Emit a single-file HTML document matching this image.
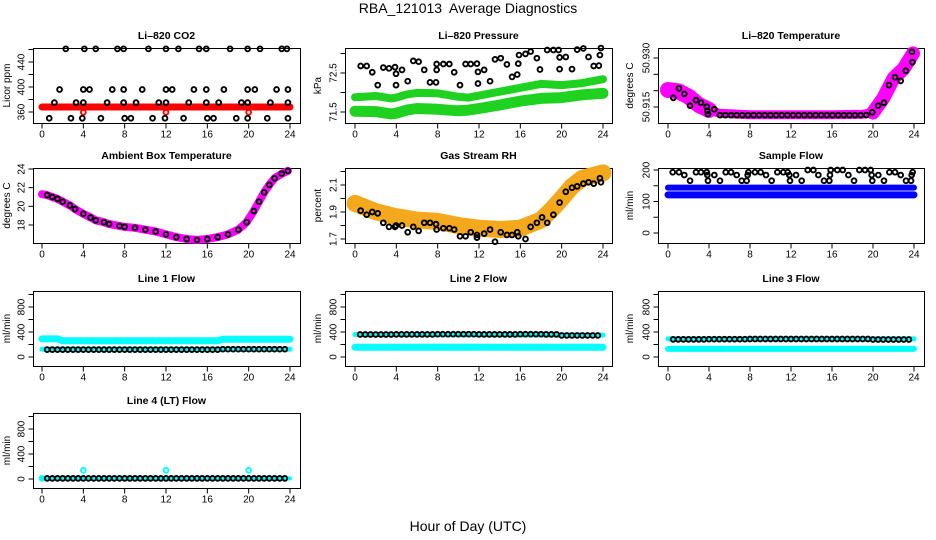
<!DOCTYPE html>
<html><head><meta charset="utf-8">
<style>
html,body{margin:0;padding:0;background:#fff;}
svg{display:block;font-family:"Liberation Sans",sans-serif;}
</style></head>
<body>
<svg id="chart" width="936" height="540" viewBox="0 0 936 540">
<text x="468" y="13" text-anchor="middle" font-size="14" style="white-space:pre" xml:space="preserve">RBA_121013  Average Diagnostics</text>
<text x="468" y="531" text-anchor="middle" font-size="14">Hour of Day (UTC)</text>
</svg>
<script>
// ---------- data ----------
const xTicks = [0,4,8,12,16,20,24];
// CO2
const co2TopH = [2.3,4.1,5.2,7.3,7.9,10.3,12.0,13.2,15.2,15.9,18.2,19.9,21.1,23.2,23.7];
const co2TopV = [461,461,461,461,461,461,461,461,461,461,461,461,461,461,461];
const co2MidH = [1.7,4.0,4.6,6.8,7.9,9.7,12.0,12.6,14.7,15.9,17.6,19.9,20.6,22.7,23.8];
const co2MidV = [396,396,396,396,396,396,396,396,396,396,396,396,396,396,396];
const co2LowH = [1.2,3.3,4.0,6.3,7.9,9.1,11.3,12.0,14.2,15.9,17.1,19.3,19.9,22.1,23.8];
const co2LowV = [375,375,375,375,375,375,375,375,375,375,375,375,375,375,375];
const co2BotH = [0.7,2.8,3.9,5.7,8.0,8.6,10.7,11.9,13.7,16.0,16.6,18.8,19.9,21.8,23.8];
const co2BotV = [350,350,350,350,350,350,350,350,350,350,350,350,350,350,350];
const co2RedH = [0,24];
const co2RedV = [368,368];
const co2RedPtH = [4,12,20];
const co2RedPtV = [359.5,359.5,359.5];
// Pressure
const presH = [0.55,1.13,1.67,2.2,2.74,3.29,3.87,3.97,3.97,4.55,5.1,5.64,6.16,6.7,7.26,7.84,7.9,7.9,8.55,9.13,9.6,10.16,10.7,11.2,11.8,11.9,11.9,12.5,13.07,13.55,14.1,14.7,15.2,15.7,15.8,15.87,16.5,17.0,17.6,17.9,18.6,19.2,19.7,19.8,19.8,20.4,21.0,21.5,22.1,22.6,23.1,23.6,23.7,23.8];
const presV = [72.68,72.68,72.52,72.19,72.64,72.62,72.65,72.48,72.19,72.58,72.29,72.81,72.79,72.58,72.26,72.26,72.58,72.73,72.73,72.73,72.52,72.19,72.73,72.73,72.74,72.53,72.23,72.58,72.29,72.85,72.88,72.72,72.4,72.46,72.74,72.96,72.99,73.05,72.88,72.59,73.09,73.09,73.09,72.9,72.6,72.91,72.6,73.1,73.13,72.91,72.68,72.69,72.96,73.14];
const presBandH = [0,2,3.5,4,5,6,8,10,11,12,14,16,18,20,22,24];
const presLowV = [71.52,71.51,71.45,71.47,71.55,71.59,71.57,71.53,71.55,71.59,71.68,71.78,71.85,71.87,71.94,71.98];
const presUpV = [71.88,71.91,71.85,71.87,71.95,71.99,71.98,71.89,71.87,71.92,72.02,72.12,72.22,72.19,72.24,72.34];
// Li-820 temperature
const ltH = [0.52,1.07,1.59,2.15,2.73,3.22,3.78,3.84,3.9,4.52,5.07,5.6,6.15,6.7,7.25,7.8,8.35,8.9,9.45,10,10.55,11.1,11.65,12.2,12.75,13.3,13.85,14.4,14.95,15.5,16.05,16.6,17.15,17.7,18.25,18.8,19.35,19.93,20.5,21.07,21.56,22.15,22.7,23.2,23.8,23.85];
const ltV = [50.9178,50.9207,50.919,50.9154,50.9171,50.9163,50.9151,50.9138,50.9128,50.9143,50.9125,50.9125,50.9125,50.9125,50.9125,50.9125,50.9125,50.9125,50.9125,50.9125,50.9125,50.9125,50.9125,50.9125,50.9125,50.9125,50.9125,50.9125,50.9125,50.9125,50.9125,50.9125,50.9125,50.9125,50.9125,50.9125,50.9125,50.9134,50.9154,50.9163,50.9217,50.9241,50.923,50.9261,50.9319,50.9287];
const ltBandH = [0,1,2,3,4,5,8,12,16,19,20,21,22,23,23.9];
const ltBandV = [50.9202,50.9198,50.9182,50.9156,50.9141,50.9131,50.9126,50.9126,50.9126,50.9128,50.9133,50.9177,50.9238,50.9268,50.9314];
// Ambient
const ambH = [0,0.5,1,1.5,2,2.7,3.2,4,4.7,5.2,6,6.5,7.5,8,9,10,11,12,13,14,15,16,17,18,19,19.8,20.5,21,21.5,22,22.5,23.2,23.8];
const ambV = [21.3,21.2,21.0,20.8,20.5,20.1,19.7,19.2,18.8,18.5,18.3,18.1,17.9,17.8,17.7,17.5,17.3,17.0,16.7,16.5,16.4,16.5,16.7,17.0,17.5,18.3,19.5,20.5,21.5,22.3,23.0,23.5,23.8];
// Gas RH
const rhH = [0.55,1.13,1.67,2.2,2.74,3.29,3.87,3.97,4.55,5.1,5.64,6.16,6.7,7.26,7.84,7.9,8.55,9.13,9.6,10.16,10.7,11.2,11.8,11.8,12.5,13.07,13.55,14.1,14.7,15.2,15.7,15.8,16.5,17.0,17.6,18.1,18.6,19.2,19.8,20.4,21.0,21.5,22.1,22.6,23.1,23.7,23.8];
const rhV = [1.91,1.88,1.90,1.89,1.82,1.79,1.79,1.80,1.80,1.75,1.79,1.76,1.82,1.82,1.81,1.77,1.78,1.78,1.77,1.72,1.72,1.75,1.73,1.71,1.74,1.77,1.68,1.75,1.73,1.73,1.75,1.72,1.70,1.79,1.82,1.86,1.82,1.88,1.97,2.05,2.08,2.09,2.11,2.12,2.11,2.15,2.12];
const rhBandH = [0,2,4,6,8,10,12,14,16,18,19,20,21,22,23,24];
const rhBandV = [1.964,1.902,1.865,1.84,1.83,1.80,1.78,1.77,1.78,1.84,1.915,2.0,2.09,2.15,2.17,2.19];
// Sample flow
const sfH = [0.46,1.07,1.59,2.15,2.73,3.22,3.78,3.84,3.9,4.52,5.07,5.63,6.15,6.7,7.19,7.67,7.77,7.84,8.49,9.04,9.56,10.11,10.67,11.25,11.67,11.84,11.9,12.49,13.04,13.63,14.18,14.67,15.22,15.74,15.8,15.87,16.52,17.04,17.6,18.15,18.67,19.22,19.77,19.87,19.93,20.52,21.07,21.6,22.15,22.7,23.22,23.71,23.77,23.87];
const sfV = [193,193,184,166,193,193,193,184,166,184,166,193,193,184,166,166,184,193,193,193,184,166,193,193,193,184,166,184,166,200,200,184,166,166,184,200,200,200,184,166,200,200,200,184,166,184,166,193,193,184,166,166,184,193];
const sfBandH = [0,24];
const sfUpV = [144,144];
const sfLowV = [121,121];
// Line flows
const flowH = [0.5,1,1.5,2,2.5,3,3.5,4,4.5,5,5.5,6,6.5,7,7.5,8,8.5,9,9.5,10,10.5,11,11.5,12,12.5,13,13.5,14,14.5,15,15.5,16,16.5,17,17.5,18,18.5,19,19.5,20,20.5,21,21.5,22,22.5,23,23.5];
const line1Black = [118,118,118,118,118,118,118,118,118,118,118,118,118,118,118,118,118,118,118,118,118,118,118,118,118,118,118,118,118,118,118,118,118,118,125,125,125,125,125,125,125,125,125,125,125,125,125];
const line2Black = [360,360,360,360,360,360,360,362,362,362,362,362,362,362,362,365,365,365,365,365,365,365,365,362,362,362,362,362,362,362,362,365,365,365,365,365,362,362,362,345,345,345,345,345,345,345,345];
const line3Black = [282,282,282,282,282,282,282,285,285,285,285,285,285,285,285,288,288,288,288,288,288,288,288,288,288,288,288,288,288,288,288,288,288,288,288,288,288,288,288,280,280,280,280,280,280,280,280];
const line4Black = [10,10,10,10,10,10,10,10,10,10,10,10,10,10,10,10,10,10,10,10,10,10,10,10,10,10,10,10,10,10,10,10,10,10,10,10,10,10,10,10,10,10,10,10,10,10,10];
const line1CyanUpH = [0,1.5,2,17,17.5,24];
const line1CyanUpV = [290,290,260,260,285,285];
const line1CyanLowH = [0,24];
const line1CyanLowV = [125,125];
const line2CyanUpH = [0,24];
const line2CyanUpV = [360,350];
const line2CyanLowH = [0,24];
const line2CyanLowV = [155,155];
const line3CyanUpH = [0,24];
const line3CyanUpV = [290,290];
const line3CyanLowH = [0,24];
const line3CyanLowV = [130,130];
const line4CyanH = [0,24];
const line4CyanV = [10,10];
const line4CyanPtH = [0,4,12,20];
const line4CyanPtV = [10,140,140,140];

// ---------- drawing ----------
const NS = "http://www.w3.org/2000/svg";
const svg = document.getElementById('chart');
const cols = [{bx:33,bw:267,x0:42,x1:290,lx:10},{bx:345,bw:267,x0:355,x1:603,lx:321},{bx:658,bw:266,x0:668,x1:914,lx:633}];
const rows = [48,168,291,413];
const BH = 75;

function mk(tag, attrs, parent){
  const e = document.createElementNS(NS, tag);
  for (const k in attrs) e.setAttribute(k, attrs[k]);
  (parent||svg).appendChild(e);
  return e;
}

function panel(name, title, ylab, c, r, v0, p0, v1, p1, yTicks, yLabels){
  const col = cols[c], top = rows[r];
  const g = mk('g', {});
  
  
  const X = h => col.x0 + (h/24)*(col.x1-col.x0);
  const Y = v => (top+p0) + (v-v0)*((p1-p0)/(v1-v0));
  const t = mk('text', {x: col.bx+col.bw/2, y: top-9, 'text-anchor':'middle','font-size':10.5,'font-weight':'bold'}, g);
  t.textContent = title;
  
  
  const yl = mk('text', {x: col.lx, y: top+BH/2, 'text-anchor':'middle','font-size':10,transform:`rotate(-90 ${col.lx} ${top+BH/2})`}, g);
  yl.textContent = ylab;
  
  
  const box = mk('rect', {x: col.bx+0.5, y: top+0.5, width: col.bw, height: BH, fill:'none', stroke:'#000','stroke-width':1}, g);
  
  
  const xa = mk('g', {}, g);
  
  
  const by = top+BH+0.5;
  mk('line', {x1:X(0), x2:X(24), y1:by, y2:by, stroke:'#000'}, xa);
  xTicks.forEach(h=>{
    mk('line', {x1:X(h), x2:X(h), y1:by, y2:by+5, stroke:'#000'}, xa);
    const tl = mk('text', {x:X(h), y:by+14, 'text-anchor':'middle','font-size':10}, xa);
    tl.textContent = h;
    
    
  });
  const ya = mk('g', {}, g);
  
  
  const bx = col.bx+0.5;
  mk('line', {x1:bx, x2:bx, y1:Y(yTicks[0]), y2:Y(yTicks[yTicks.length-1]), stroke:'#000'}, ya);
  yTicks.forEach(v=>{ mk('line', {x1:bx-5, x2:bx, y1:Y(v), y2:Y(v), stroke:'#000'}, ya); });
  yLabels.forEach(v=>{
    const lx = bx-9;
    const tl = mk('text', {x:lx, y:Y(v), 'text-anchor':'middle','font-size':10,transform:`rotate(-90 ${lx} ${Y(v)})`}, ya);
    tl.textContent = v;
    
    
  });
  const data = mk('g', {}, g);
  
  
  return {X, Y, g: data};
}

function band(p, hs, vs, color, w, nm){
  const pts = hs.map((h,i)=>p.X(h).toFixed(1)+','+p.Y(vs[i]).toFixed(1)).join(' ');
  const l = mk('polyline', {points:pts, fill:'none', stroke:color, 'stroke-width':w, 'stroke-linejoin':'round','stroke-linecap':'round'}, p.g);
  
  
}
function pts(p, hs, vs, color, nm){
  hs.forEach((h,i)=>{
    const c = mk('circle', {cx:p.X(h), cy:p.Y(vs[i]), r:2.4, fill:'none', stroke:color, 'stroke-width':1.9}, p.g);
    
    
  });
}

// Row 1
let p = panel('co2', 'Li\u2013820 CO2', 'Licor ppm', 0, 0, 360, 64, 440, 14, [360,380,400,420,440,460], [360,400,440]);
band(p, co2RedH, co2RedV, '#ff0000', 7, 'co2-red-band');
pts(p, co2RedPtH, co2RedPtV, '#ff0000', 'co2-red-point');
pts(p, co2TopH, co2TopV, '#000', 'co2-point');
pts(p, co2MidH, co2MidV, '#000', 'co2-point');
pts(p, co2LowH, co2LowV, '#000', 'co2-point');
pts(p, co2BotH, co2BotV, '#000', 'co2-point');

p = panel('pressure', 'Li\u2013820 Pressure', 'kPa', 1, 0, 71.5, 64, 72.5, 25, [71.5,72,72.5,73], [71.5,72.5]);
band(p, presBandH, presLowV, '#1fd21f', 11, 'pressure-lower-band');
band(p, presBandH, presUpV, '#1fd21f', 8, 'pressure-upper-band');
pts(p, presH, presV, '#000', 'pressure-point');

p = panel('li820-temp', 'Li\u2013820 Temperature', 'degrees C', 2, 0, 50.915, 59, 50.930, 10, [50.915,50.920,50.925,50.930], ['50.915','50.930']);
band(p, ltBandH, ltBandV, '#ff00ff', 9, 'li820-temp-band');
band(p, ltBandH.slice(0,5), ltBandV.slice(0,5), '#ff00ff', 16, 'li820-temp-band-start');
band(p, ltBandH.slice(10), ltBandV.slice(10), '#ff00ff', 14, 'li820-temp-band-end');
pts(p, ltH, ltV, '#000', 'li820-temp-point');

// Row 2
p = panel('ambient', 'Ambient Box Temperature', 'degrees C', 0, 1, 18, 57, 24, 1, [18,20,22,24], [18,20,22,24]);
band(p, ambH, ambV, '#ff00ff', 8, 'ambient-band');
pts(p, ambH.slice(1), ambV.slice(1), '#000', 'ambient-point');

p = panel('rh', 'Gas Stream RH', 'percent', 1, 1, 1.7, 71, 2.1, 17, [1.7,1.8,1.9,2.0,2.1,2.2], ['1.7','1.9','2.1']);
band(p, rhBandH, rhBandV, '#f4a81c', 17, 'rh-band');
pts(p, rhH, rhV, '#000', 'rh-point');

p = panel('sample-flow', 'Sample Flow', 'ml/min', 2, 1, 0, 65, 200, 2, [0,50,100,150,200], [0,100,200]);
band(p, sfBandH, sfUpV, '#0000ff', 6, 'sample-flow-upper-band');
band(p, sfBandH, sfLowV, '#0000ff', 7, 'sample-flow-lower-band');
pts(p, sfH, sfV, '#000', 'sample-flow-point');

// Row 3 & 4
const fT = [0,200,400,600,800,1000], fL = [0,400,800];
p = panel('line1', 'Line 1 Flow', 'ml/min', 0, 2, 0, 66, 800, 16, fT, fL);
band(p, line1CyanUpH, line1CyanUpV, '#00ffff', 7, 'line1-cyan-upper');
band(p, line1CyanLowH, line1CyanLowV, '#00ffff', 5, 'line1-cyan-lower');
pts(p, flowH, line1Black, '#000', 'line1-point');

p = panel('line2', 'Line 2 Flow', 'ml/min', 1, 2, 0, 66, 800, 16, fT, fL);
band(p, line2CyanUpH, line2CyanUpV, '#00ffff', 5, 'line2-cyan-upper');
band(p, line2CyanLowH, line2CyanLowV, '#00ffff', 7, 'line2-cyan-lower');
pts(p, flowH, line2Black, '#000', 'line2-point');

p = panel('line3', 'Line 3 Flow', 'ml/min', 2, 2, 0, 66, 800, 16, fT, fL);
band(p, line3CyanUpH, line3CyanUpV, '#00ffff', 5, 'line3-cyan-upper');
band(p, line3CyanLowH, line3CyanLowV, '#00ffff', 6, 'line3-cyan-lower');
pts(p, flowH, line3Black, '#000', 'line3-point');

p = panel('line4', 'Line 4 (LT) Flow', 'ml/min', 0, 3, 0, 66, 800, 16, fT, fL);
band(p, line4CyanH, line4CyanV, '#00ffff', 4, 'line4-cyan-band');
pts(p, line4CyanPtH, line4CyanPtV, '#00ffff', 'line4-cyan-point');
pts(p, flowH, line4Black, '#000', 'line4-point');
</script>
</body></html>
